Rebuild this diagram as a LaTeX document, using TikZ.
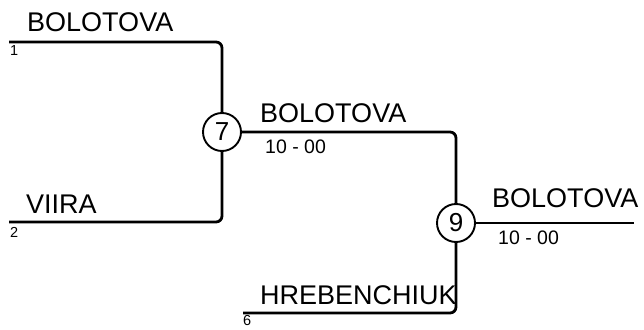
\documentclass[tikz,border=0pt]{standalone}
\usepackage{fontspec}
\setmainfont{Liberation Sans}
\begin{document}
\begin{tikzpicture}[x=1pt,y=-1pt,
  wire/.style={line width=2.8pt, rounded corners=6pt},
  seed/.style={circle, draw, line width=1.9pt, minimum size=38pt, inner sep=0pt, font=\fontsize{26}{26}\selectfont},
  pname/.style={anchor=base west, inner sep=0pt, font=\fontsize{27}{27}\selectfont},
  score/.style={anchor=base west, inner sep=0pt, font=\fontsize{19.5}{20}\selectfont},
  idx/.style={anchor=base west, inner sep=0pt, font=\fontsize{14.5}{15}\selectfont}]
\useasboundingbox (0,0) rectangle (644,329);
\node[seed] (c7) at (222,132) {7};
\node[seed] (c9) at (456,223) {9};
\coordinate (s1) at (9,42);
\coordinate (k1) at (222,42);
\coordinate (s2) at (9,222);
\coordinate (k2) at (222,222);
\coordinate (k7) at (456,132);
\coordinate (s6) at (243,313);
\coordinate (k6) at (456,313);
\coordinate (e9) at (634,223);
\draw[wire] (s1) -- (k1) -- (c7.north);
\draw[wire] (s2) -- (k2) -- (c7.south);
\draw[wire] (c7.east) -- (k7) -- (c9.north);
\draw[wire] (s6) -- (k6) -- (c9.south);
\draw[wire] (c9.east) -- (e9);
\node[pname] (n1) at (27,31) {BOLOTOVA};
\node[idx] (i1) at (10,55.5) {1};
\node[pname] (n2) at (26,213) {VIIRA};
\node[idx] (i2) at (10,237) {2};
\node[pname] (n7) at (260,122) {BOLOTOVA};
\node[score] (r7) at (265,153) {10 - 00};
\node[pname] (n6) at (260,304) {HREBENCHIUK};
\node[idx] (i6) at (243,325) {6};
\node[pname] (n9) at (492,207) {BOLOTOVA};
\node[score] (r9) at (498,244) {10 - 00};
\end{tikzpicture}
\end{document}
